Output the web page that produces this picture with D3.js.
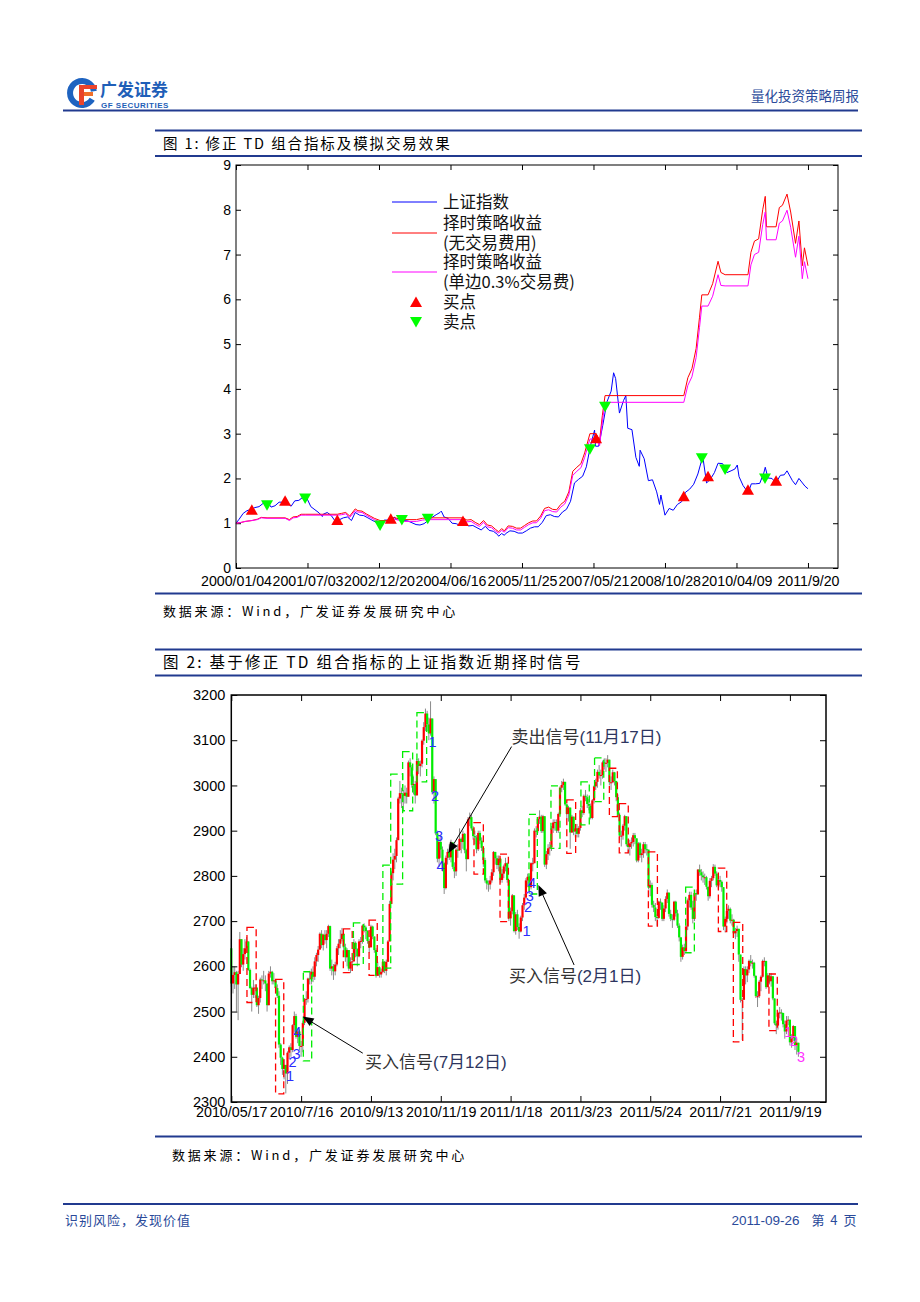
<!DOCTYPE html>
<html><head><meta charset="utf-8">
<script src="https://cdn.jsdelivr.net/npm/d3@7"></script>
<style>body{margin:0;background:#fff}svg{display:block}</style>
</head><body><svg id="c" width="920" height="1302"></svg>
<script>
// ================= FIGURE 1 DATA =================
const fig1TickLabels = ["2000/01/04","2001/07/03","2002/12/20","2004/06/16","2005/11/25","2007/05/21","2008/10/28","2010/04/09","2011/9/20"];
const fig1TickDates  = ["2000-01-04","2001-07-03","2002-12-20","2004-06-16","2005-11-25","2007-05-21","2008-10-28","2010-04-09","2011-09-20"];
const fig1YTicks = [0,1,2,3,4,5,6,7,8,9];

const indexDates = ["2000-01-04","2000-01-28","2000-02-28","2000-03-28","2000-04-28","2000-05-28","2000-06-28","2000-07-28","2000-08-28","2000-09-28","2000-10-28","2000-11-28","2000-12-28",
"2001-01-28","2001-02-28","2001-03-28","2001-04-28","2001-05-28","2001-06-14","2001-06-28","2001-07-28","2001-08-28","2001-09-28","2001-10-22","2001-10-28","2001-11-28","2001-12-28",
"2002-01-28","2002-02-28","2002-03-28","2002-04-28","2002-05-28","2002-06-25","2002-07-28","2002-08-28","2002-09-28","2002-10-28","2002-11-28","2002-12-28",
"2003-01-28","2003-02-28","2003-03-28","2003-04-15","2003-04-28","2003-05-28","2003-06-28","2003-07-28","2003-08-28","2003-09-28","2003-10-28","2003-11-28","2003-12-28",
"2004-01-28","2004-02-28","2004-03-28","2004-04-07","2004-04-28","2004-05-28","2004-06-28","2004-07-28","2004-08-28","2004-09-28","2004-10-28","2004-11-28","2004-12-28",
"2005-01-28","2005-02-28","2005-03-28","2005-04-28","2005-05-28","2005-06-06","2005-06-28","2005-07-18","2005-07-28","2005-08-28","2005-09-28","2005-10-28","2005-11-28","2005-12-28",
"2006-01-28","2006-02-28","2006-03-28","2006-04-28","2006-05-28","2006-06-28","2006-07-28","2006-08-28","2006-09-28","2006-10-28","2006-11-28","2006-12-28",
"2007-01-28","2007-02-28","2007-03-28","2007-04-28","2007-05-29","2007-06-05","2007-06-28","2007-07-28","2007-08-28","2007-09-28","2007-10-16","2007-10-31","2007-11-28","2007-12-28",
"2008-01-14","2008-01-28","2008-02-28","2008-03-28","2008-04-22","2008-04-28","2008-05-28","2008-06-28","2008-07-28","2008-08-28","2008-09-18","2008-09-28","2008-10-28","2008-11-28","2008-12-28",
"2009-01-28","2009-02-28","2009-03-28","2009-04-28","2009-05-28","2009-06-28","2009-07-28","2009-08-04","2009-08-31","2009-09-28","2009-10-28","2009-11-24","2009-12-28",
"2010-01-28","2010-02-28","2010-03-28","2010-04-15","2010-04-28","2010-05-28","2010-06-28","2010-07-05","2010-07-28","2010-08-28","2010-09-28","2010-10-28","2010-11-08","2010-11-28","2010-12-28",
"2011-01-25","2011-02-28","2011-03-28","2011-04-18","2011-05-28","2011-06-20","2011-07-15","2011-08-28","2011-09-20"];
const indexValues = [1.00,1.09,1.22,1.28,1.31,1.35,1.37,1.44,1.49,1.36,1.39,1.47,1.47,
1.45,1.38,1.50,1.51,1.58,1.60,1.56,1.37,1.30,1.23,1.15,1.20,1.24,1.17,
1.04,1.08,1.12,1.14,1.06,1.24,1.18,1.17,1.12,1.07,1.02,0.97,
1.07,1.07,1.06,1.14,1.08,1.12,1.06,1.05,1.01,0.97,0.96,0.99,1.06,
1.13,1.19,1.24,1.27,1.14,1.11,1.00,0.99,0.95,0.99,0.94,0.95,0.90,
0.85,0.93,0.84,0.82,0.75,0.71,0.77,0.73,0.77,0.83,0.82,0.78,0.78,0.83,
0.89,0.92,0.92,1.02,1.17,1.19,1.15,1.14,1.25,1.31,1.49,1.90,
1.98,2.05,2.26,2.73,3.08,2.72,2.72,3.18,3.71,3.95,4.36,4.23,3.46,3.74,
3.85,3.12,3.09,2.47,2.27,2.63,2.44,1.95,1.97,1.70,1.42,1.63,1.18,1.33,1.29,
1.42,1.48,1.69,1.76,1.87,2.10,2.43,2.47,1.90,1.98,2.13,2.34,2.33,
2.13,2.17,2.21,2.30,2.04,1.84,1.71,1.68,1.88,1.88,1.89,2.12,2.25,2.01,2.00,
1.90,2.07,2.08,2.17,1.95,1.86,2.00,1.83,1.77];

const stratDates = ["2000-01-04","2000-02-15","2000-03-15","2000-05-04","2000-06-15","2000-07-15","2000-08-28","2001-01-13","2001-02-15","2001-03-15","2001-04-15","2001-05-15","2001-06-15",
"2002-02-11","2002-03-15","2002-04-15","2002-05-15","2002-06-25","2002-07-15","2002-08-15","2002-09-15","2002-10-15","2002-11-15","2002-12-28",
"2003-03-20","2003-04-15","2003-05-15","2003-06-12","2003-10-01","2003-11-15","2003-12-26",
"2004-09-16","2004-10-15","2004-11-15","2004-12-15","2005-01-15","2005-02-15","2005-03-15","2005-04-15","2005-05-15","2005-06-06","2005-06-28","2005-07-18","2005-08-15","2005-09-15","2005-10-15","2005-11-15","2005-12-15",
"2006-01-15","2006-02-15","2006-03-15","2006-04-15","2006-05-15","2006-06-15","2006-07-15","2006-08-15","2006-09-15","2006-10-15","2006-11-15","2006-12-15",
"2007-01-15","2007-02-15","2007-03-15","2007-04-24","2007-06-09","2007-07-05","2007-07-25","2007-08-14",
"2009-03-16","2009-04-15","2009-05-15","2009-06-15","2009-07-10","2009-07-27","2009-09-11","2009-10-15","2009-11-24","2009-12-15","2010-01-15",
"2010-07-03","2010-07-25","2010-08-20","2010-09-20","2010-10-20","2010-11-08","2010-11-17",
"2011-01-27","2011-02-20","2011-03-15","2011-04-18","2011-05-15","2011-06-20","2011-07-15","2011-08-09","2011-08-25","2011-09-20"];
const stratNoFee = [1.00,1.02,1.04,1.06,1.09,1.13,1.12,1.12,1.08,1.14,1.15,1.20,1.20,
1.20,1.22,1.24,1.16,1.32,1.28,1.27,1.21,1.16,1.11,1.06,
1.06,1.13,1.10,1.08,1.08,1.11,1.12,
1.12,1.07,1.08,1.02,0.97,1.06,0.96,0.94,0.86,0.81,0.88,0.83,0.94,0.93,0.89,0.89,0.95,
1.01,1.05,1.05,1.16,1.33,1.36,1.31,1.30,1.42,1.49,1.70,2.16,
2.25,2.33,2.57,3.00,3.00,2.85,3.40,3.85,
3.85,4.25,4.45,4.90,5.60,6.10,6.10,6.35,6.85,6.60,6.55,
6.55,7.05,7.30,7.35,8.00,8.30,7.62,
7.62,8.05,8.10,8.35,7.95,7.25,7.75,6.75,7.15,6.75];
const stratFee = [1.00,1.02,1.04,1.06,1.08,1.12,1.11,1.11,1.06,1.12,1.13,1.18,1.18,
1.18,1.19,1.21,1.13,1.28,1.25,1.24,1.18,1.13,1.08,1.03,
1.03,1.09,1.07,1.04,1.04,1.07,1.08,
1.08,1.03,1.04,0.98,0.93,1.02,0.92,0.90,0.82,0.78,0.84,0.80,0.90,0.89,0.85,0.85,0.91,
0.97,1.01,1.01,1.11,1.28,1.30,1.26,1.25,1.36,1.43,1.63,2.07,
2.16,2.24,2.47,2.88,2.88,2.73,3.26,3.70,
3.70,4.08,4.27,4.70,5.37,5.85,5.85,6.07,6.55,6.31,6.30,
6.30,6.77,7.00,7.05,7.67,7.95,7.33,
7.33,7.70,7.75,7.99,7.61,6.94,7.41,6.46,6.84,6.46];

const buyDates  = ["2000-05-04","2001-01-13","2002-02-11","2003-03-20","2004-09-16","2007-06-09","2009-03-16","2009-09-11","2010-07-03","2011-01-27"];
const buyValues = [1.30,1.50,1.07,1.10,1.05,2.90,1.60,2.05,1.75,1.95];
const sellDates  = ["2000-08-28","2001-06-15","2002-12-28","2003-06-12","2003-12-26","2007-04-24","2007-08-14","2009-07-27","2010-01-15","2010-11-06"];
const sellValues = [1.40,1.55,0.95,1.07,1.10,2.65,3.60,2.45,2.20,2.00];

const legendLabels = [["上证指数"],["择时策略收益","(无交易费用)"],["择时策略收益","(单边0.3%交易费)"],["买点"],["卖点"]];

// ================= FIGURE 2 DATA =================
const fig2TickLabels = ["2010/05/17","2010/7/16","2010/9/13","2010/11/19","2011/1/18","2011/3/23","2011/5/24","2011/7/21","2011/9/19"];
const fig2TickDays = [0,41,82,123,164,205,246,287,328];
const fig2YTicks = [2300,2400,2500,2600,2700,2800,2900,3000,3100,3200];
const firstOpen = 2640;
const dayClose = [2562,2581,2587,2560,2583,2660,2604,2627,2640,2655,2592,
2552,2537,2553,2553,2514,2530,2571,2569,2569,2562,2514,2584,2588,2567,2569,2552,2535,2427,2398,
2373,2382,2363,2409,2421,2415,2470,2490,2444,2456,2424,2424,2475,2527,2528,2573,2572,2588,2577,2611,2625,2637,
2672,2647,2670,2658,2672,2689,2595,2600,2589,2604,2640,2650,2660,2672,2642,2620,2636,2595,2610,2611,2652,2638,
2622,2655,2656,2690,2686,2678,2656,2642,2688,2666,2636,2579,2598,2582,2588,2610,2590,2610,2655,
2738,2806,2836,2844,2879,2971,2983,2982,2977,2984,2975,3051,3040,3001,3003,2978,
3054,3043,3048,3099,3129,3159,3135,3115,3148,2985,3014,2894,2838,2875,2858,2828,2773,2840,2853,2841,2874,2820,
2810,2858,2857,2882,2875,2893,2857,2837,2925,2930,2905,2888,2885,2859,2895,2878,2862,2835,2790,2783,2781,2790,2808,
2853,2839,2824,2838,2791,2805,2821,2828,2791,2706,2722,2757,2678,2715,2687,2677,2708,2735,2752,2790,
2798,2775,2828,2828,2900,2899,2926,2931,2899,2932,2825,2848,2861,2863,2905,
2918,2919,2900,2937,2995,3001,3008,2958,2937,2951,2896,2931,2898,2905,2893,2906,2945,2939,2977,2974,2959,2955,2928,
2967,2998,3008,3030,3022,3023,3051,3050,3050,3057,3007,3007,3029,3010,2974,2935,2889,2889,2911,
2932,2870,2864,2872,2875,2890,2883,2834,2872,2846,2850,2870,2859,2858,2774,2780,2736,2730,2709,2707,2743,
2741,2705,2728,2749,2763,2716,2705,2703,2743,2717,2690,2664,2621,2642,2634,2688,2746,2758,2730,2705,2762,2759,
2814,2808,2801,2797,2797,2776,2755,2789,2795,2820,2805,2779,2791,2787,2775,2688,2705,2723,2727,2701,
2703,2673,2678,2683,2626,2526,2526,2594,2580,2593,2612,2607,2608,2579,2534,2534,2566,2577,2612,2612,2554,2580,2567,
2578,2529,2474,2469,2497,2498,2497,2472,2456,2480,2482,2432,2442,2468,2424,2431,2411];
const dayHigh = [2660,2600,2600,2590,2590,2676,2650,2640,2660,2665,2650,
2595,2555,2570,2560,2553,2535,2575,2580,2590,2580,2560,2590,2600,2590,2585,2570,2560,2545,2430,
2400,2395,2380,2412,2425,2430,2472,2500,2495,2460,2460,2435,2480,2530,2545,2575,2590,2595,2600,2620,2630,2645,
2675,2680,2672,2680,2680,2692,2690,2615,2605,2610,2645,2660,2680,2685,2670,2650,2640,2635,2620,2620,2660,2655,
2640,2660,2665,2692,2695,2690,2680,2660,2692,2690,2665,2640,2610,2600,2595,2612,2612,2615,2658,
2745,2810,2850,2860,2885,2975,3010,2995,2990,3000,2995,3055,3060,3045,3020,3010,
3058,3060,3055,3102,3140,3170,3165,3150,3186,3140,3020,3010,2900,2885,2890,2865,2830,2845,2860,2870,2880,2875,
2830,2862,2870,2905,2885,2900,2895,2860,2930,2940,2935,2910,2900,2890,2900,2900,2885,2865,2840,2795,2790,2800,2815,
2855,2850,2845,2845,2840,2815,2825,2840,2830,2790,2730,2760,2755,2720,2725,2695,2712,2740,2760,2795,
2805,2800,2830,2840,2905,2910,2930,2945,2935,2935,2930,2855,2870,2875,2910,
2925,2925,2925,2940,2998,3010,3015,3005,2960,2955,2945,2935,2925,2915,2915,2910,2950,2955,2980,2990,2980,2970,2960,
2970,3000,3015,3035,3045,3035,3055,3060,3060,3067,3050,3020,3035,3030,3010,2980,2940,2900,2915,
2935,2930,2880,2880,2885,2895,2895,2880,2875,2875,2860,2875,2875,2870,2855,2790,2785,2745,2740,2715,2745,
2750,2735,2735,2755,2770,2760,2725,2715,2745,2745,2725,2695,2665,2648,2650,2690,2750,2765,2765,2745,2765,2770,
2815,2825,2815,2810,2805,2800,2775,2795,2800,2826,2825,2810,2795,2800,2790,2770,2710,2730,2735,2730,
2715,2705,2685,2690,2660,2620,2530,2600,2600,2600,2615,2625,2615,2610,2580,2545,2570,2580,2615,2620,2605,2585,2585,
2585,2575,2520,2480,2500,2510,2505,2490,2480,2490,2490,2480,2450,2470,2455,2440,2430];
const dayLow = [2555,2540,2550,2500,2481,2590,2598,2590,2615,2630,2590,
2550,2500,2530,2530,2510,2495,2520,2550,2560,2545,2500,2530,2575,2560,2560,2540,2530,2420,2382,
2360,2350,2319,2340,2395,2400,2410,2455,2440,2430,2415,2400,2410,2470,2515,2520,2560,2560,2565,2570,2600,2610,
2640,2640,2635,2650,2640,2665,2590,2580,2570,2580,2600,2625,2640,2655,2630,2610,2600,2590,2585,2590,2610,2620,
2600,2620,2640,2650,2675,2660,2650,2630,2645,2660,2630,2575,2580,2575,2575,2585,2585,2580,2610,
2670,2740,2790,2815,2830,2880,2960,2950,2945,2960,2960,2980,3020,2995,2980,2960,
2985,3025,3020,3040,3090,3120,3120,3100,3110,2980,2960,2890,2830,2820,2840,2810,2760,2770,2825,2835,2830,2815,
2795,2800,2840,2855,2850,2860,2850,2810,2840,2910,2900,2880,2870,2850,2855,2870,2855,2820,2785,2770,2765,2770,2785,
2800,2825,2815,2810,2785,2785,2795,2810,2785,2700,2690,2715,2675,2670,2680,2661,2675,2700,2725,2750,
2775,2760,2770,2810,2830,2885,2895,2915,2895,2895,2820,2815,2835,2845,2855,
2895,2900,2895,2895,2935,2985,2990,2955,2925,2920,2860,2895,2890,2885,2885,2885,2900,2930,2935,2965,2950,2945,2925,
2925,2960,2990,2995,3015,3000,3015,3035,3030,3040,3000,2990,3005,3000,2965,2930,2880,2865,2880,
2900,2865,2850,2845,2860,2865,2870,2830,2830,2840,2830,2840,2850,2845,2770,2755,2730,2720,2700,2690,2705,
2725,2700,2700,2720,2740,2710,2700,2685,2700,2710,2685,2655,2610,2615,2625,2630,2680,2730,2725,2695,2700,2745,
2760,2800,2790,2785,2780,2770,2745,2750,2775,2790,2800,2775,2770,2775,2765,2680,2675,2695,2705,2695,
2690,2665,2660,2665,2610,2520,2437,2530,2560,2565,2585,2600,2595,2575,2530,2510,2530,2545,2575,2600,2550,2555,2560,
2555,2525,2470,2450,2460,2485,2480,2465,2440,2450,2470,2425,2420,2435,2415,2405,2400];

const boxStart = [9.2,26,42.3,65.8,71.7,80.9,89,93.6,100.6,109,142.5,157.8,174.8,187.7,197,205.3,213.3,222,227.8,244.9,266.8,286,294.8,315.7];
const boxEnd   = [14.6,30.8,47.2,71,77.5,85.7,93.6,100.6,106.5,114.7,148,162.7,179.7,193,202.2,210.2,218.7,226.7,233.1,250.2,271.9,290.9,300.3,320.6];
const boxHigh  = [2686,2571,2588,2683,2696,2702,2824,3025,3075,3161,2918,2848,2936,2999,2968,3008,3061,3038,2960,2853,2775,2817,2697,2583];
const boxLow   = [2520,2318,2391,2586,2604,2580,2596,2782,2944,3008,2804,2699,2760,2861,2850,2913,2964,2931,2851,2689,2630,2677,2433,2458];
const boxColor = ["r","r","g","r","g","r","g","g","g","g","r","r","g","g","r","g","g","r","r","r","g","r","r","r"];

const countDay   = [34.5,36.0,38.3,38.8,118.2,119.6,122,122.8,173.3,174.2,175.2,176.6,327,330.4,334.5];
const countPrice = [2357,2388,2406,2455,3096,2977,2888,2822,2678,2731,2755,2784,2455,2435,2400];
const countText  = ["1","2","3","4","1","2","3","4","1","2","3","4","1","2","3"];
const countColor = ["b","b","b","b","b","b","b","b","b","b","b","b","m","m","m"];

const annoMain  = ["卖出信号","买入信号","买入信号"];
const annoParen = ["(11月17日)","(2月1日)","(7月12日)"];
const annoTextDay   = [164.6,163,78.5];
const annoTextPrice = [3107,2579,2388];
const annoTailDay   = [164.6,201.3,77.2];
const annoTailPrice = [3086,2603,2408];
const annoTipDay    = [127.4,180.3,41.9];
const annoTipPrice  = [2850,2780,2489];

// ================= DRAWING =================
const svg = d3.select("#c");
svg.append("rect").attr("width",920).attr("height",1302).attr("fill","#fff");
const CJK = "'Noto Sans CJK SC','Noto Sans',sans-serif";
const SANS = "'Liberation Sans',Arial,sans-serif";
const NAVY = "#213a8f";
const parse = d3.timeParse("%Y-%m-%d");

// ---- header ----
const logo = svg.append("g");
logo.append("path").attr("transform","translate(82,93)")
  .attr("d", d3.arc().innerRadius(9).outerRadius(15).startAngle(Math.PI/2+0.55).endAngle(Math.PI*2.5-0.15)())
  .attr("fill","#1e63c0");
logo.append("rect").attr("x",79).attr("y",85).attr("width",18).attr("height",4).attr("fill","#e9442b");
logo.append("rect").attr("x",79).attr("y",92).attr("width",14).attr("height",4).attr("fill","#f0702a");
logo.append("rect").attr("x",79).attr("y",85).attr("width",5).attr("height",20).attr("fill","#e9442b");
svg.append("text").attr("x",100).attr("y",95.5).attr("font-family",CJK).attr("font-weight","bold")
  .attr("font-size",17).attr("fill","#1f5fb8").text("广发证券");
svg.append("text").attr("x",101).attr("y",108).attr("font-family",SANS).attr("font-weight","bold")
  .attr("font-size",8).attr("letter-spacing",0.5).attr("fill","#1f5fb8").text("GF SECURITIES");
svg.append("text").attr("x",859).attr("y",101).attr("text-anchor","end").attr("font-family",CJK)
  .attr("font-size",13.5).attr("fill","#2a4a9a").text("量化投资策略周报");
svg.append("rect").attr("x",63).attr("y",109.5).attr("width",795).attr("height",2).attr("fill",NAVY);

function bar(y){ svg.append("rect").attr("x",155).attr("y",y).attr("width",707).attr("height",2).attr("fill",NAVY); }
bar(129.5); bar(155);
svg.append("text").attr("x",163).attr("y",148.5).attr("font-family",CJK).attr("font-size",14.5).attr("letter-spacing",1.9).attr("fill","#000")
  .text("图 1: 修正 TD 组合指标及模拟交易效果");
bar(592.5);
svg.append("text").attr("x",163).attr("y",616).attr("font-family",CJK).attr("font-size",13).attr("letter-spacing",2.8).attr("fill","#000")
  .text("数据来源：Wind，广发证券发展研究中心");
bar(648.5); bar(674.5);
svg.append("text").attr("x",163).attr("y",667.5).attr("font-family",CJK).attr("font-size",15.5).attr("letter-spacing",2.25).attr("fill","#000")
  .text("图 2: 基于修正 TD 组合指标的上证指数近期择时信号");
bar(1135.5);
svg.append("text").attr("x",172).attr("y",1160).attr("font-family",CJK).attr("font-size",13).attr("letter-spacing",2.8).attr("fill","#000")
  .text("数据来源：Wind，广发证券发展研究中心");
svg.append("rect").attr("x",63).attr("y",1203).attr("width",795).attr("height",2).attr("fill",NAVY);
svg.append("text").attr("x",65).attr("y",1225).attr("font-family",CJK).attr("font-size",13).attr("letter-spacing",1).attr("fill","#2a4a9a").text("识别风险，发现价值");
svg.append("text").attr("x",858).attr("y",1225).attr("text-anchor","end").attr("fill","#2a4a9a")
  .call(t=>{t.append("tspan").attr("font-family",SANS).attr("font-size",13.5).text("2011-09-26");
            t.append("tspan").attr("font-family",CJK).attr("font-size",13).attr("letter-spacing",1.5).attr("dx",12).text("第 4 页");});

// ---- Figure 1 ----
const f1 = {l:236, r:838, t:165, b:568};
const f1Step = (f1.r-f1.l)/8.42;
const x1 = d3.scaleTime().domain(fig1TickDates.map(parse)).range(fig1TickDates.map((d,i)=>f1.l+i*f1Step));
const y1 = d3.scaleLinear().domain([0,9]).range([f1.b,f1.t]);
const g1 = svg.append("g");

function styleAxis(g, fs){
  g.select(".domain").remove();
  g.selectAll(".tick line").attr("stroke","#000");
  g.selectAll("text").attr("font-family",SANS).attr("font-size",fs).attr("fill","#000");
}
g1.append("g").attr("transform",`translate(0,${f1.b})`)
  .call(d3.axisBottom(x1).tickValues(fig1TickDates.map(parse)).tickFormat((d,i)=>fig1TickLabels[i]).tickSizeInner(-5).tickSizeOuter(0).tickPadding(8))
  .call(g=>styleAxis(g,14.2));
g1.append("g").attr("transform",`translate(0,${f1.t})`)
  .call(d3.axisTop(x1).tickValues(fig1TickDates.map(parse)).tickFormat("").tickSizeInner(-5).tickSizeOuter(0))
  .call(g=>styleAxis(g,13));
g1.append("g").attr("transform",`translate(${f1.l},0)`)
  .call(d3.axisLeft(y1).tickValues(fig1YTicks).tickSizeInner(-5).tickSizeOuter(0).tickPadding(5))
  .call(g=>styleAxis(g,14));
g1.append("g").attr("transform",`translate(${f1.r},0)`)
  .call(d3.axisRight(y1).tickValues(fig1YTicks).tickFormat("").tickSizeInner(-5).tickSizeOuter(0))
  .call(g=>styleAxis(g,13));

const line1 = d3.line().x(d=>x1(d[0])).y(d=>y1(d[1]));
g1.append("path").datum(indexDates.map((d,i)=>[parse(d),indexValues[i]]))
  .attr("d",line1).attr("fill","none").attr("stroke","#0000ff").attr("stroke-width",1);
g1.append("path").datum(stratDates.map((d,i)=>[parse(d),stratNoFee[i]]))
  .attr("d",line1).attr("fill","none").attr("stroke","#ff0000").attr("stroke-width",1);
g1.append("path").datum(stratDates.map((d,i)=>[parse(d),stratFee[i]]))
  .attr("d",line1).attr("fill","none").attr("stroke","#ff00ff").attr("stroke-width",1);

const triUp = "M0,-5.5L6,5L-6,5Z", triDown = "M0,5.5L6,-5L-6,-5Z";
g1.selectAll(".buy").data(buyDates).join("path")
  .attr("transform",(d,i)=>`translate(${x1(parse(d))},${y1(buyValues[i])})`).attr("d",triUp).attr("fill","#ff0000");
g1.selectAll(".sell").data(sellDates).join("path")
  .attr("transform",(d,i)=>`translate(${x1(parse(d))},${y1(sellValues[i])})`).attr("d",triDown).attr("fill","#00ff00");

g1.append("rect").attr("x",f1.l).attr("y",f1.t).attr("width",f1.r-f1.l).attr("height",f1.b-f1.t)
  .attr("fill","none").attr("stroke","#000").attr("stroke-width",1);

// legend
const lg = g1.append("g").attr("font-family",CJK).attr("font-size",16.5).attr("fill","#111");
const legendSample = [{k:"line",c:"#0000ff",y:202},{k:"line",c:"#ff0000",y:233},{k:"line",c:"#ff00ff",y:272},{k:"up",c:"#ff0000",y:302},{k:"down",c:"#00ff00",y:322}];
const legendTextY = [[202],[223,243],[262,282],[302],[322]];
legendLabels.forEach((labs,i)=>{
  const s = legendSample[i];
  if(s.k==="line") lg.append("line").attr("x1",392).attr("x2",437).attr("y1",s.y).attr("y2",s.y).attr("stroke",s.c).attr("stroke-width",1);
  else lg.append("path").attr("transform",`translate(416,${s.y})`).attr("d",s.k==="up"?triUp:triDown).attr("fill",s.c);
  labs.forEach((t,j)=>lg.append("text").attr("x",443).attr("y",legendTextY[i][j]).attr("dy","0.36em").text(t));
});

// ---- Figure 2 ----
const f2 = {l:231.3, r:826, t:695, b:1102};
const x2 = d3.scaleLinear().domain([0,349.2]).range([f2.l,f2.r]);
const y2 = d3.scaleLinear().domain([2300,3200]).range([f2.b,f2.t]);
const g2 = svg.append("g");

const candles = dayClose.map((c,i)=>({i, o: i===0?firstOpen:dayClose[i-1], c, h:dayHigh[i], l:dayLow[i]}));
g2.selectAll(".wick").data(candles).join("line")
  .attr("x1",d=>x2(d.i)).attr("x2",d=>x2(d.i))
  .attr("y1",d=>y2(Math.max(d.h,d.o,d.c))).attr("y2",d=>y2(Math.min(d.l,d.o,d.c)))
  .attr("stroke","#8a8a8a").attr("stroke-width",1);
g2.selectAll(".body").data(candles).join("rect")
  .attr("x",d=>x2(d.i)-1.1).attr("width",2.2)
  .attr("y",d=>y2(Math.max(d.o,d.c))).attr("height",d=>Math.max(1,Math.abs(y2(d.o)-y2(d.c))))
  .attr("fill",d=>d.c>=d.o?"#ff0000":"#00ee00");

g2.selectAll(".box").data(boxStart).join("rect")
  .attr("x",(d,i)=>x2(d)).attr("width",(d,i)=>x2(boxEnd[i])-x2(d))
  .attr("y",(d,i)=>y2(boxHigh[i])).attr("height",(d,i)=>y2(boxLow[i])-y2(boxHigh[i]))
  .attr("fill","none").attr("stroke",(d,i)=>boxColor[i]==="r"?"#ff0000":"#00ee00")
  .attr("stroke-width",1.3).attr("stroke-dasharray","7,4");

g2.selectAll(".cnt").data(countText).join("text")
  .attr("x",(d,i)=>x2(countDay[i])).attr("y",(d,i)=>y2(countPrice[i])).attr("dy","0.35em")
  .attr("text-anchor","middle").attr("font-family",SANS).attr("font-size",14.5)
  .attr("fill",(d,i)=>countColor[i]==="b"?"#2b2bff":"#ff33ff").text(d=>d);

// annotations
annoMain.forEach((t,i)=>{
  const tx=x2(annoTailDay[i]), ty=y2(annoTailPrice[i]), px=x2(annoTipDay[i]), py=y2(annoTipPrice[i]);
  const ang=Math.atan2(py-ty,px-tx), L=11, W=4.5;
  const bx=px-L*Math.cos(ang), by=py-L*Math.sin(ang);
  g2.append("line").attr("x1",tx).attr("y1",ty).attr("x2",bx).attr("y2",by).attr("stroke","#000").attr("stroke-width",1);
  g2.append("path").attr("d",`M${px},${py}L${bx+W*Math.sin(ang)},${by-W*Math.cos(ang)}L${bx-W*Math.sin(ang)},${by+W*Math.cos(ang)}Z`).attr("fill","#000");
  const te = g2.append("text").attr("x",x2(annoTextDay[i])).attr("y",y2(annoTextPrice[i])).attr("dy","0.36em").attr("font-size",17);
  te.append("tspan").attr("font-family",CJK).attr("fill","#333").text(t);
  te.append("tspan").attr("font-family",SANS+","+CJK).attr("fill","#2d3560").text(annoParen[i]);
});

g2.append("g").attr("transform",`translate(0,${f2.b})`)
  .call(d3.axisBottom(x2).tickValues(fig2TickDays).tickFormat((d,i)=>fig2TickLabels[i]).tickSizeInner(-6).tickSizeOuter(0).tickPadding(5))
  .call(g=>styleAxis(g,14.3));
g2.append("g").attr("transform",`translate(0,${f2.t})`)
  .call(d3.axisTop(x2).tickValues(fig2TickDays).tickFormat("").tickSizeInner(-6).tickSizeOuter(0))
  .call(g=>styleAxis(g,14));
g2.append("g").attr("transform",`translate(${f2.l},0)`)
  .call(d3.axisLeft(y2).tickValues(fig2YTicks).tickFormat(d3.format("d")).tickSizeInner(-6).tickSizeOuter(0).tickPadding(6))
  .call(g=>styleAxis(g,14.5));
g2.append("g").attr("transform",`translate(${f2.r},0)`)
  .call(d3.axisRight(y2).tickValues(fig2YTicks).tickFormat("").tickSizeInner(-6).tickSizeOuter(0))
  .call(g=>styleAxis(g,14));
g2.append("rect").attr("x",f2.l).attr("y",f2.t).attr("width",f2.r-f2.l).attr("height",f2.b-f2.t)
  .attr("fill","none").attr("stroke","#000").attr("stroke-width",1.5);
</script></body></html>
